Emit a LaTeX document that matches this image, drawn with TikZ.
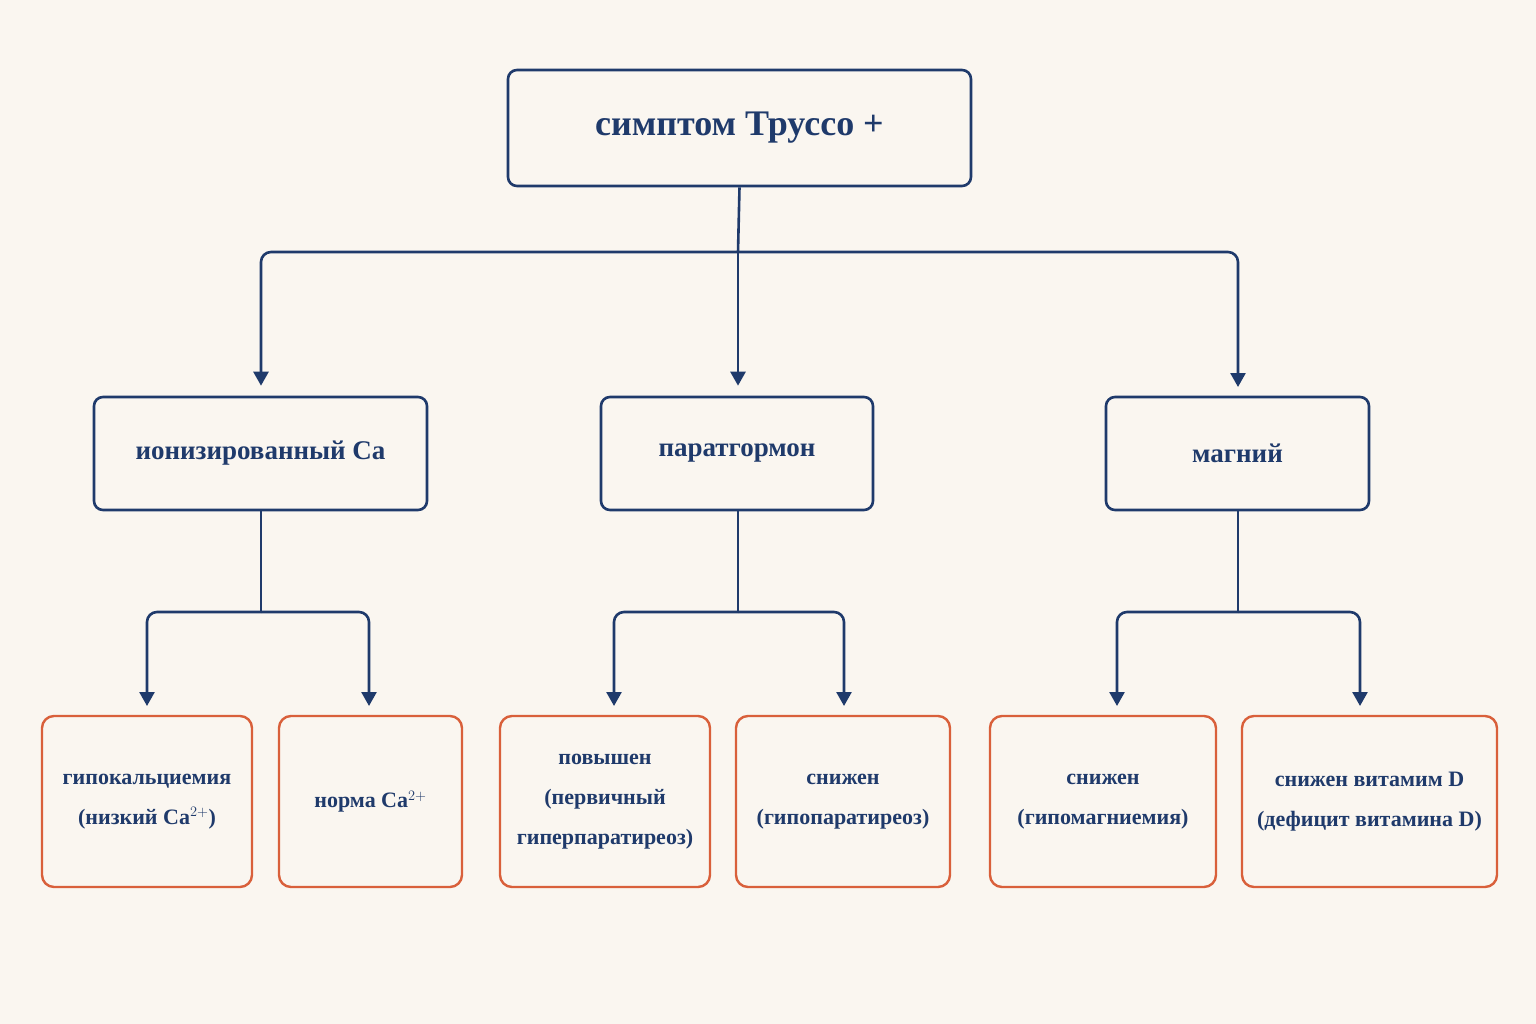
\documentclass[tikz,border=0pt]{standalone}
\usepackage{fontspec}
\setmainfont{Liberation Serif}
\usetikzlibrary{arrows.meta}
\definecolor{bg}{HTML}{FAF6F0}
\definecolor{navy}{HTML}{1F3A6B}
\definecolor{rust}{HTML}{D9603B}
\begin{document}
\begin{tikzpicture}[x=1pt,y=-1pt,
 box/.style={draw=navy,line width=2.6pt,rounded corners=9pt,text=navy,font=\bfseries,align=center,inner sep=0pt},
 leaf/.style={draw=rust,line width=2.4pt,rounded corners=12pt,text=navy,font=\bfseries\fontsize{22}{40}\selectfont,align=center,inner sep=0pt},
 conn/.style={draw=navy,line width=2.6pt,rounded corners=10pt,-{Triangle[width=15pt,length=14pt]},shorten >=10pt}]
\fill[bg] (0,0) rectangle (1536,1024);
\node[box,minimum width=463pt,minimum height=116pt,font=\bfseries\fontsize{36}{40}\selectfont] (top) at (739.5,128) {симптом Труссо +};
\node[box,minimum width=333pt,minimum height=113pt,font=\bfseries\fontsize{27}{32}\selectfont] (m1) at (260.5,453.5) {ионизированный Ca};
\node[box,minimum width=272pt,minimum height=113pt,font=\bfseries\fontsize{27}{32}\selectfont] (m2) at (737,453.5) {паратгормон};
\node[box,minimum width=263pt,minimum height=113pt,font=\bfseries\fontsize{27}{32}\selectfont] (m3) at (1237.5,453.5) {магний};
\node[leaf,minimum width=210pt,minimum height=171pt] (l1) at (147,801.5) {гипокальциемия\\(низкий Ca$^{2+}$)};
\node[leaf,minimum width=183pt,minimum height=171pt] (l2) at (370.5,801.5) {норма Ca$^{2+}$};
\node[leaf,minimum width=210pt,minimum height=171pt] (l3) at (605,801.5) {повышен\\(первичный\\гиперпаратиреоз)};
\node[leaf,minimum width=214pt,minimum height=171pt] (l4) at (843,801.5) {снижен\\(гипопаратиреоз)};
\node[leaf,minimum width=226pt,minimum height=171pt] (l5) at (1103,801.5) {снижен\\(гипомагниемия)};
\node[leaf,minimum width=255pt,minimum height=171pt] (l6) at (1369.5,801.5) {снижен витамим D\\(дефицит витамина D)};
\coordinate (j0) at (738,252);
\coordinate (j1) at (261,612);
\coordinate (j2) at (738,612);
\coordinate (j3) at (1238,612);
\draw[navy,line width=2.6pt] (top.south) -- (j0);
\draw[conn] (j0) -| (m1.north -| j1);
\draw[conn] (j0) -| (1238,397);
\draw[conn] (j0) -- (m2.north -| j0);
\draw[navy,line width=2.6pt] (m1.south -| j1) -- (j1);
\draw[navy,line width=2.6pt] (m2.south -| j2) -- (j2);
\draw[navy,line width=2.6pt] (m3.south -| j3) -- (j3);
\draw[conn] (j1) -| (147,716);
\draw[conn] (j1) -| (369,716);
\draw[conn] (j2) -| (614,716);
\draw[conn] (j2) -| (844,716);
\draw[conn] (j3) -| (1117,716);
\draw[conn] (j3) -| (1360,716);
\end{tikzpicture}
\end{document}
